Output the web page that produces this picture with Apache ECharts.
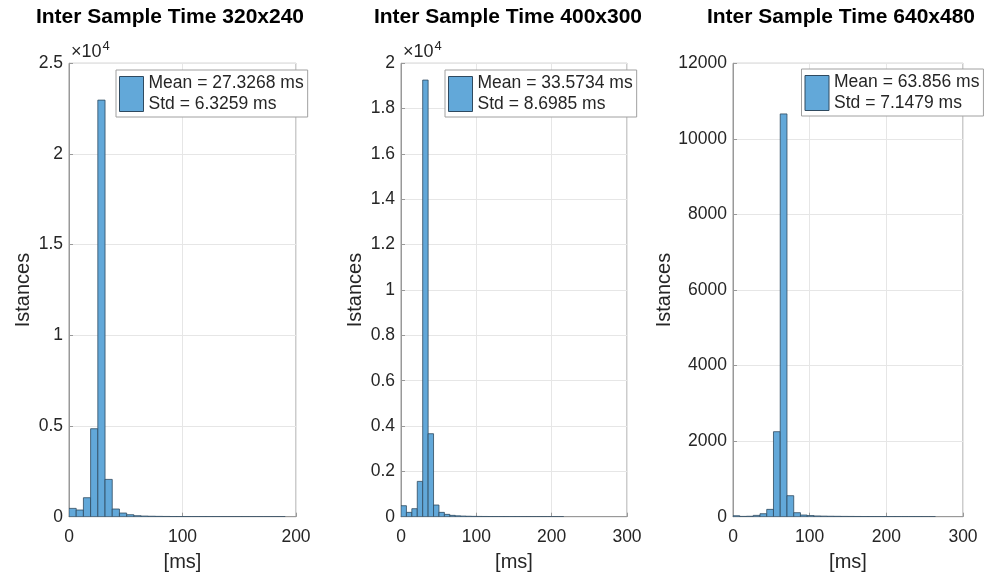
<!DOCTYPE html>
<html><head><meta charset="utf-8">
<script src="https://cdn.jsdelivr.net/npm/echarts@6/dist/echarts.min.js"></script>
<style>html,body{margin:0;padding:0;background:#fff}#c{width:1002px;height:579px}</style>
</head><body><div id="c"></div>
<script>
// ---- data ----
const titles = ['Inter Sample Time 320x240', 'Inter Sample Time 400x300', 'Inter Sample Time 640x480'];
const binWidths = [6.35, 7.2, 8.8];
const counts320 = [459, 368, 1047, 4851, 22970, 2057, 423, 202, 110, 55, 35, 25, 18, 14, 11, 9, 8, 7, 6, 5, 5, 4, 4, 3, 3, 2, 2, 2, 1, 1];
const counts400 = [485, 191, 353, 1558, 19260, 3661, 515, 191, 103, 59, 38, 27, 20, 15, 12, 10, 8, 7, 6, 5, 4, 4, 3, 3, 2, 2, 2, 1, 1, 1];
const counts640 = [25, 8, 12, 35, 79, 194, 2250, 10660, 556, 106, 44, 30, 20, 15, 12, 10, 8, 7, 6, 5, 5, 4, 4, 3, 3, 2, 2, 2, 1, 1];
const meanLabels = ['Mean = 27.3268 ms', 'Mean = 33.5734 ms', 'Mean = 63.856 ms'];
const stdLabels = ['Std = 6.3259 ms', 'Std = 8.6985 ms', 'Std = 7.1479 ms'];
const xMax = [200, 300, 300];
const xInterval = [100, 100, 100];
const yMax = [25000, 20000, 12000];
const yInterval = [5000, 2000, 2000];
const yDivisor = [10000, 10000, 1];
const exponentLabels = ['4', '4', null];
const xAxisName = '[ms]';
const yAxisName = 'Istances';

// ---- layout / style ----
const FONT = '"Liberation Sans", Arial, Helvetica, sans-serif';
const TXT = '#262626';
const AX = '#999999';
const GRIDC = '#e6e6e6';
const BAR = '#62a8d9';
const EDGE = '#2f4a60';
const gridLeft = [69, 401, 733];
const gridWidth = [227, 226, 230];
const gridTop = 63.3;
const gridHeight = 453.4;
const legendLeft = [116, 445, 801.5];
const legendTop = [70, 70, 69];
const titleX = [170, 508, 841];

const allCounts = [counts320, counts400, counts640];
const seriesNames = ['h0', 'h1', 'h2'];

const chart = echarts.init(document.getElementById('c'), null, {renderer: 'canvas'});

const grids = [], xAxes = [], yAxes = [], series = [], legends = [], graphics = [];
for (let i = 0; i < 3; i++) {
  grids.push({left: gridLeft[i], top: gridTop, width: gridWidth[i], height: gridHeight,
    containLabel: false, outerBoundsMode: 'none',
    show: true, borderColor: AX, borderWidth: 1, backgroundColor: '#fff'});
  xAxes.push({type: 'value', gridIndex: i, min: 0, max: xMax[i], interval: xInterval[i],
    name: xAxisName, nameLocation: 'middle', nameGap: 36,
    nameTextStyle: {fontSize: 20, color: TXT, fontFamily: FONT},
    axisLine: {show: true, onZero: false, lineStyle: {color: AX, width: 1}},
    axisTick: {show: true, inside: true, length: 4, lineStyle: {color: AX}},
    axisLabel: {fontSize: 17.5, color: TXT, fontFamily: FONT, margin: 11},
    splitLine: {show: true, lineStyle: {color: GRIDC, width: 1}}});
  const d = yDivisor[i];
  yAxes.push({type: 'value', gridIndex: i, min: 0, max: yMax[i], interval: yInterval[i],
    name: yAxisName, nameLocation: 'middle', nameGap: 36,
    nameTextStyle: {fontSize: 20, color: TXT, fontFamily: FONT},
    axisLine: {show: true, lineStyle: {color: AX, width: 1}},
    axisTick: {show: true, inside: true, length: 4, lineStyle: {color: AX}},
    axisLabel: {fontSize: 17.5, color: TXT, fontFamily: FONT, margin: 6,
      formatter: v => String(parseFloat((v / d).toFixed(3)))},
    splitLine: {show: true, lineStyle: {color: GRIDC, width: 1}}});
  const w = binWidths[i];
  const data = allCounts[i].map((c, k) => [k * w, (k + 1) * w, c]);
  series.push({type: 'custom', name: seriesNames[i], xAxisIndex: i, yAxisIndex: i,
    itemStyle: {color: BAR, borderColor: EDGE, borderWidth: 0.8},
    encode: {x: [0, 1], y: 2},
    data: data,
    clip: true,
    renderItem: function (params, api) {
      const p0 = api.coord([api.value(0), 0]);
      const p1 = api.coord([api.value(1), api.value(2)]);
      return {type: 'rect',
        shape: {x: p0[0], y: p1[1], width: p1[0] - p0[0], height: p0[1] - p1[1]},
        style: {fill: BAR, stroke: EDGE, lineWidth: 0.8}};
    }});
  legends.push({data: [{name: seriesNames[i], icon: 'rect',
      itemStyle: {color: BAR, borderColor: EDGE, borderWidth: 1}}],
    left: legendLeft[i], top: legendTop[i], orient: 'vertical',
    itemWidth: 24, itemHeight: 35, itemGap: 0,
    padding: [3, 4, 2, 3],
    backgroundColor: '#fff', borderColor: '#a0a0a0', borderWidth: 1, borderRadius: 0,
    selectedMode: false,
    formatter: () => meanLabels[i] + '\n' + stdLabels[i],
    textStyle: {fontSize: 17.5, lineHeight: 21, color: TXT, fontFamily: FONT}});
  graphics.push({type: 'text', x: titleX[i], y: 17,
    style: {text: titles[i], fontSize: 21, fontWeight: 'bold', fontFamily: FONT,
      fill: '#000', align: 'center', verticalAlign: 'middle'}});
  if (exponentLabels[i]) {
    graphics.push({type: 'text', x: gridLeft[i] + 2, y: 52,
      style: {text: '{b|×10}{s|' + exponentLabels[i] + '}', fontFamily: FONT,
        fill: TXT, align: 'left', verticalAlign: 'middle',
        rich: {b: {fontSize: 18, fontFamily: FONT, fill: TXT},
               s: {fontSize: 13, fontFamily: FONT, fill: TXT, padding: [0, 0, 12, 1]}}}});
  }
}

chart.setOption({
  animation: false,
  backgroundColor: '#fff',
  grid: grids, xAxis: xAxes, yAxis: yAxes, series: series, legend: legends,
  graphic: graphics
});
</script></body></html>
